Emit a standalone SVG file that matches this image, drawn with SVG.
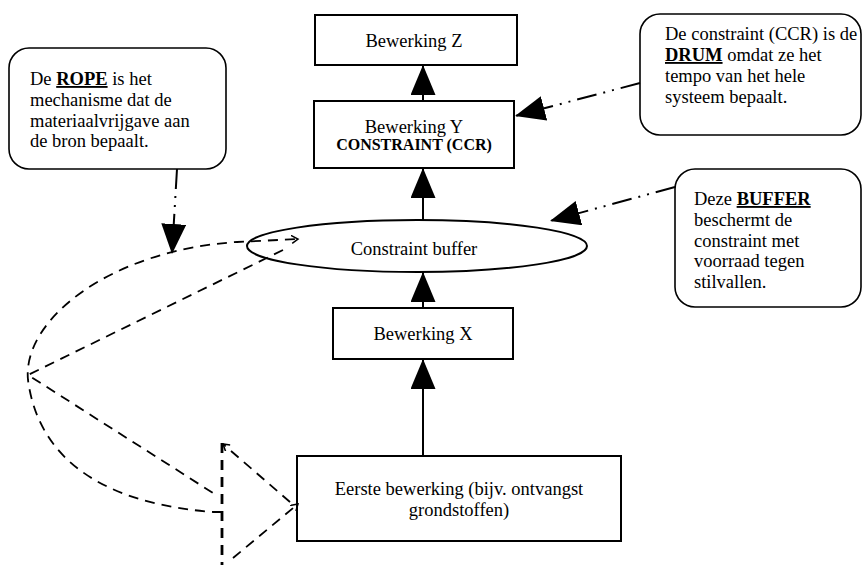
<svg xmlns="http://www.w3.org/2000/svg" width="862" height="565" viewBox="0 0 862 565">
<style>
  .box{fill:#fff;stroke:#000;stroke-width:2}
  .call{fill:#fff;stroke:#000;stroke-width:1.6}
  .t{font-family:"Liberation Serif","Times New Roman",Times,serif;font-size:18.5px;fill:#000}
  .c{text-anchor:middle}
  .b{font-weight:bold;text-decoration:underline}
  .flow{stroke:#000;stroke-width:2;fill:none}
  .dd{stroke:#000;stroke-width:2;fill:none;stroke-dasharray:20 7 2 7 2 7}
  .dash{stroke:#000;stroke-width:1.8;fill:none;stroke-dasharray:10 7}
</style>
<defs>
  <marker id="big" markerUnits="userSpaceOnUse" markerWidth="32" markerHeight="27" refX="30" refY="12.5" orient="auto">
    <path d="M0,0 L30,12.5 L0,25 Z" fill="#000"/>
  </marker>
  <marker id="small" markerUnits="userSpaceOnUse" markerWidth="10" markerHeight="10" refX="7" refY="4" orient="auto">
    <path d="M0,0 L7,4 L1,8" fill="none" stroke="#000" stroke-width="1.5"/>
  </marker>
</defs>

<g id="bewerking-z">
  <rect class="box" x="315" y="15" width="202" height="50"/>
  <text class="t c" x="414" y="47">Bewerking Z</text>
</g>
<g id="bewerking-y">
  <rect class="box" x="314" y="101" width="200" height="67"/>
  <text class="t c" x="414" y="133">Bewerking Y</text>
  <text class="t c" x="414" y="150" style="font-size:16px;font-weight:bold">CONSTRAINT (CCR)</text>
</g>
<g id="constraint-buffer">
  <ellipse class="box" cx="417" cy="246" rx="170" ry="26"/>
  <text class="t c" x="414" y="255">Constraint buffer</text>
</g>
<g id="bewerking-x">
  <rect class="box" x="333" y="308" width="180" height="51"/>
  <text class="t c" x="423" y="340">Bewerking X</text>
</g>
<g id="eerste-bewerking">
  <rect class="box" x="297" y="456" width="324" height="85"/>
  <text class="t c" x="459" y="495">Eerste bewerking (bijv. ontvangst</text>
  <text class="t c" x="459" y="516">grondstoffen)</text>
</g>

<g id="rope-note">
  <rect class="call" x="9" y="48" width="217" height="121" rx="20"/>
  <text class="t" x="30" y="85">De <tspan class="b">ROPE</tspan> is het</text>
  <text class="t" x="30" y="106">mechanisme dat de</text>
  <text class="t" x="30" y="126.5">materiaalvrijgave aan</text>
  <text class="t" x="30" y="147">de bron bepaalt.</text>
</g>
<g id="drum-note">
  <rect class="call" x="640" y="14" width="221" height="121" rx="20"/>
  <text class="t" x="665" y="40">De constraint (CCR) is de</text>
  <text class="t" x="665" y="61"><tspan class="b">DRUM</tspan> omdat ze het</text>
  <text class="t" x="665" y="82">tempo van het hele</text>
  <text class="t" x="665" y="103">systeem bepaalt.</text>
</g>
<g id="buffer-note">
  <rect class="call" x="675" y="169" width="186" height="138" rx="20"/>
  <text class="t" x="694" y="205">Deze <tspan class="b">BUFFER</tspan></text>
  <text class="t" x="694" y="226">beschermt de</text>
  <text class="t" x="694" y="247">constraint met</text>
  <text class="t" x="694" y="267">voorraad tegen</text>
  <text class="t" x="694" y="288">stilvallen.</text>
</g>

<g id="connectors">
  <line class="flow" x1="423" y1="101" x2="423" y2="65" marker-end="url(#big)"/>
  <line class="flow" x1="423" y1="221" x2="423" y2="168" marker-end="url(#big)"/>
  <line class="flow" x1="423" y1="308" x2="423" y2="272" marker-end="url(#big)"/>
  <line class="flow" x1="423" y1="456" x2="423" y2="359" marker-end="url(#big)"/>
  <line class="dd" x1="640" y1="83" x2="515" y2="116" marker-end="url(#big)"/>
  <line class="dd" x1="675" y1="187" x2="550" y2="221" marker-end="url(#big)"/>
  <line class="dd" x1="177" y1="169" x2="172" y2="254" marker-end="url(#big)"/>
  <path class="dash" d="M222,512 L213,512 C120,505 40,470 28,380 C22,320 110,250 237,242 L298,239" marker-end="url(#small)"/>
  <path class="dash" d="M283,250 L28,375 L213,493"/>
  <line class="dash" x1="222" y1="443" x2="222" y2="565" style="stroke-width:2.8"/>
  <line class="dash" x1="290" y1="502" x2="223" y2="444" marker-end="url(#small)"/>
  <line class="dash" x1="233" y1="558" x2="298" y2="504" marker-end="url(#small)"/>
</g>
</svg>
